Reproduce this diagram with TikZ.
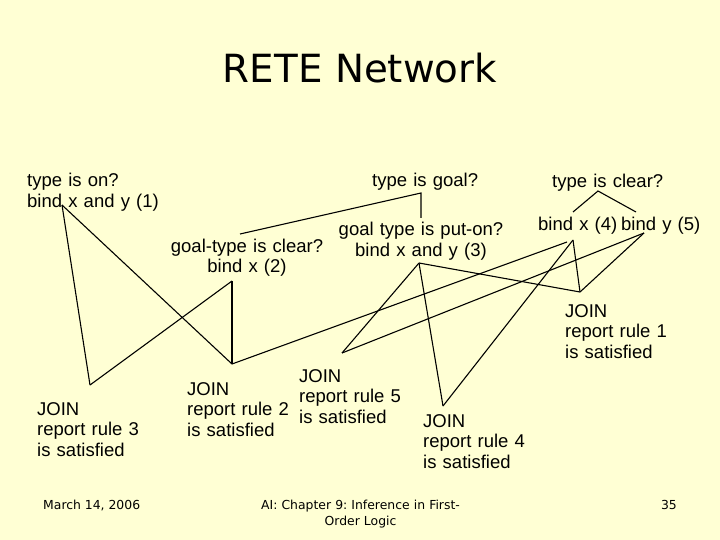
\documentclass[tikz,border=0pt]{standalone}
\usepackage{fontspec}
\setmainfont{Liberation Sans}
\newfontfamily\slidefont{DejaVu Sans}
\definecolor{slidebg}{RGB}{255,255,212}
\frenchspacing
\begin{document}
\begin{tikzpicture}[x=1pt,y=-1pt,
  lbl/.style={anchor=base west, inner sep=0pt, text width=200pt, align=left,
    font=\fontsize{18.5}{20.7}\selectfont},
  clbl/.style={anchor=base, inner sep=0pt, text width=220pt, align=center,
    font=\fontsize{18.5}{20.7}\selectfont},
  foot/.style={inner sep=0pt, font=\slidefont\fontsize{12.4}{16}\selectfont},
  link/.style={line width=1.1pt, draw=black}]
\useasboundingbox (0,0) rectangle (720,540);
\fill[slidebg] (0,0) rectangle (720,540);

% title
\node[anchor=base, inner sep=0pt, font=\slidefont\fontsize{38.8}{46}\selectfont] (title) at (360,83) {RETE Network};

% test nodes
\node[lbl] (t1) at (27,187) {type is on?\\bind x and y (1)};
\node[lbl] (tgoal) at (372,187) {type is goal?};
\node[clbl] (t2) at (247,252) {goal-type is clear?\\bind x (2)};
\node[clbl] (t3) at (421,236) {goal type is put-on?\\bind x and y (3)};
\node[lbl] (tclear) at (552,188) {type is clear?};
\node[lbl] (t4) at (538,230) {bind x (4)};
\node[lbl] (t5) at (621,230) {bind y (5)};

% join nodes
\node[lbl] (r1) at (565,317) {JOIN\\report rule 1\\is satisfied};
\node[lbl] (r2) at (187,395) {JOIN\\report rule 2\\is satisfied};
\node[lbl] (r3) at (37,415) {JOIN\\report rule 3\\is satisfied};
\node[lbl] (r4) at (423,427) {JOIN\\report rule 4\\is satisfied};
\node[lbl] (r5) at (299,382) {JOIN\\report rule 5\\is satisfied};

% attachment points
\coordinate (p1) at (62,205);
\coordinate (p2) at (232,281);
\coordinate (p3) at (419,263);
\coordinate (p4) at (573,240);
\coordinate (p4b) at (567,242);
\coordinate (p5) at (644,233);
\coordinate (qgoal) at (421,193);
\coordinate (qgoalA) at (240,234);
\coordinate (qgoalB) at (421,218);
\coordinate (qclear) at (598,191);
\coordinate (qclearA) at (573,212);
\coordinate (qclearB) at (636,212);
\coordinate (j1) at (580,292);
\coordinate (j2) at (232,364);
\coordinate (j3) at (90,385);
\coordinate (j4) at (443,406);
\coordinate (j5) at (342,353);

% connectors
\draw[link] (qgoalA) -- (qgoal) -- (qgoalB);
\draw[link] (qclearA) -- (qclear) -- (qclearB);
\draw[link] (p1) -- (j3);
\draw[link] (p1) -- (j2);
\draw[link] (p2) -- (j2);
\draw[link] (p2) -- (j3);
\draw[link] (j2) -- (p4b);
\draw[link] (p5) -- (j5);
\draw[link] (p3) -- (j5);
\draw[link] (p3) -- (j4);
\draw[link] (p3) -- (j1);
\draw[link] (p4) -- (j4);
\draw[link] (p4) -- (j1);
\draw[link] (p5) -- (j1);

% footer
\node[foot, anchor=base west] (date) at (43,509) {March 14, 2006};
\node[foot, anchor=base, text width=260pt, align=center] (chap) at (360.5,509) {AI: Chapter 9: Inference in First-\\Order Logic};
\node[foot, anchor=base east] (page) at (677,509) {35};
\end{tikzpicture}
\end{document}
